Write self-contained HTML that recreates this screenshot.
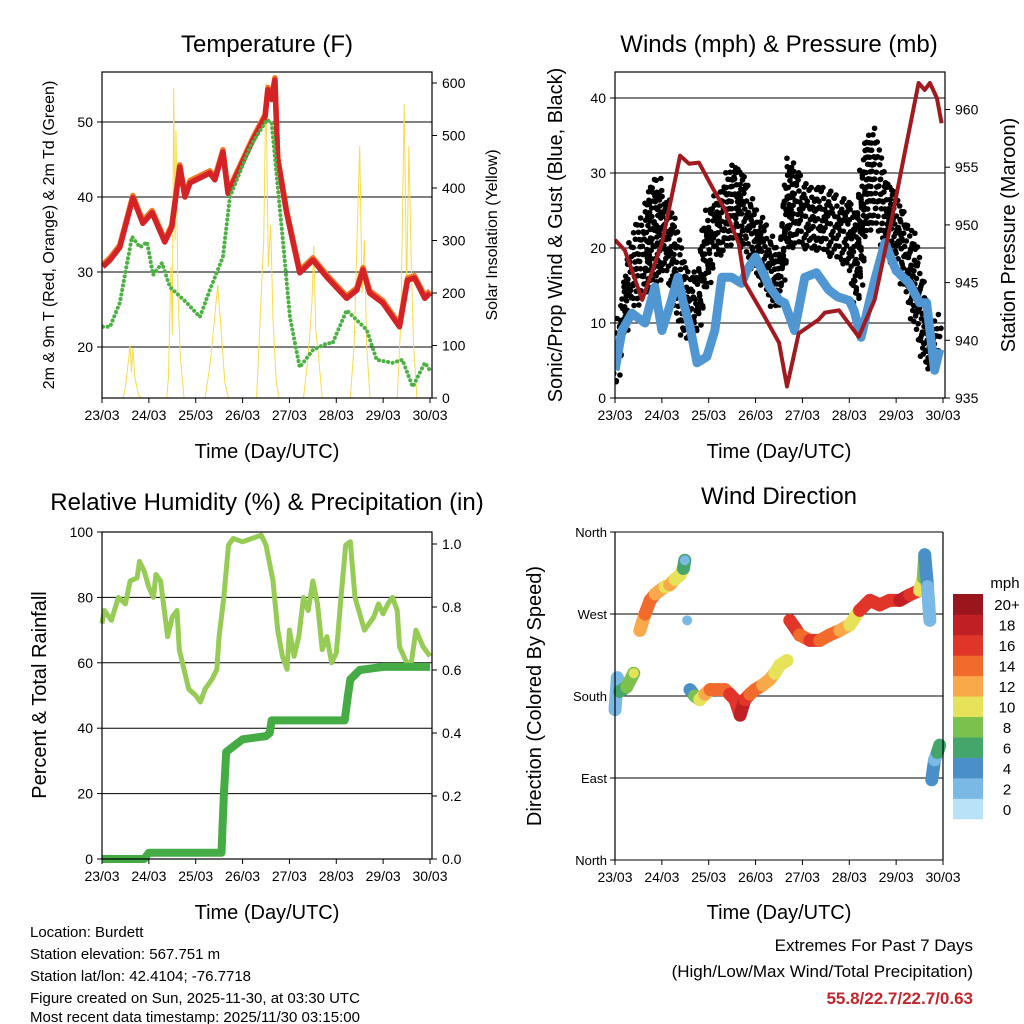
<!DOCTYPE html>
<html><head><meta charset="utf-8">
<style>
html,body{margin:0;padding:0;background:#fff;}
svg{display:block;font-family:"Liberation Sans",sans-serif;}
</style></head>
<body>
<svg id="chart" width="1024" height="1024" viewBox="0 0 1024 1024" xmlns="http://www.w3.org/2000/svg">
<g id="static">
<text x="267" y="52" font-size="24" text-anchor="middle">Temperature (F)</text>
<text x="779" y="52" font-size="24" text-anchor="middle">Winds (mph) &amp; Pressure (mb)</text>
<text x="267" y="510" font-size="24" text-anchor="middle">Relative Humidity (%) &amp; Precipitation (in)</text>
<text x="779" y="504" font-size="24" text-anchor="middle">Wind Direction</text>
<text x="267" y="458" font-size="20" text-anchor="middle">Time (Day/UTC)</text>
<text x="779" y="458" font-size="20" text-anchor="middle">Time (Day/UTC)</text>
<text x="267" y="919" font-size="20" text-anchor="middle">Time (Day/UTC)</text>
<text x="779" y="919" font-size="20" text-anchor="middle">Time (Day/UTC)</text>
<text transform="translate(54,235) rotate(-90)" font-size="16" text-anchor="middle">2m &amp; 9m T (Red, Orange) &amp; 2m Td (Green)</text>
<text transform="translate(497,235) rotate(-90)" font-size="16" text-anchor="middle">Solar Insolation (Yellow)</text>
<text transform="translate(562,235) rotate(-90)" font-size="20" text-anchor="middle">Sonic/Prop Wind &amp; Gust (Blue, Black)</text>
<text transform="translate(1015,235) rotate(-90)" font-size="20" text-anchor="middle">Station Pressure (Maroon)</text>
<text transform="translate(46,695) rotate(-90)" font-size="20" text-anchor="middle">Percent &amp; Total Rainfall</text>
<text transform="translate(541,696) rotate(-90)" font-size="20" text-anchor="middle">Direction (Colored By Speed)</text>
<g font-size="15">
<text x="30" y="937">Location: Burdett</text>
<text x="30" y="959">Station elevation: 567.751 m</text>
<text x="30" y="981">Station lat/lon: 42.4104; -76.7718</text>
<text x="30" y="1003">Figure created on Sun, 2025-11-30, at 03:30 UTC</text>
<text x="30" y="1022">Most recent data timestamp: 2025/11/30 03:15:00</text>
</g>
<text x="973" y="951" font-size="17" text-anchor="end">Extremes For Past 7 Days</text>
<text x="973" y="977" font-size="17" text-anchor="end">(High/Low/Max Wind/Total Precipitation)</text>
<text x="973" y="1004" font-size="17" font-weight="bold" fill="#c0272d" text-anchor="end">55.8/22.7/22.7/0.63</text>
</g>
</svg>
<script>
// ===== Data =====
const dayLabels = ["23/03","24/03","25/03","26/03","27/03","28/03","29/03","30/03"];
// Temperature panel
const tempT = [0.02,0.17,0.38,0.66,0.87,1.07,1.34,1.49,1.66,1.77,1.88,2.30,2.41,2.58,2.69,3.22,3.48,3.54,3.62,3.69,3.75,3.94,4.22,4.50,4.80,5.22,5.44,5.57,5.71,5.99,6.35,6.52,6.67,6.89,7.0];
const tempV = [30.7,31.6,33.3,39.9,36.5,37.9,34,36,44,40,41.9,43.2,42.3,46,40.5,47.6,50.7,54.3,53,55.6,45,37.9,29.9,31.6,29.3,26.5,27.6,30.3,27.2,25.9,22.7,28.9,29.2,26.5,27.2];
const dewT = [0.02,0.17,0.38,0.64,0.81,0.96,1.09,1.28,1.45,1.81,2.09,2.30,2.58,2.73,3.16,3.52,3.62,3.84,4.01,4.22,4.50,4.80,4.92,5.22,5.50,5.65,5.86,6.20,6.41,6.63,6.89,7.0];
const dewV = [22.7,22.7,25.9,34.7,33.3,34,29.6,31.2,28,25.9,24,27.6,32,40,46.7,50.3,49.9,35.6,24,17.3,19.6,20.5,20.5,24.9,23.2,22.3,18.3,17.9,18.3,14.7,17.9,16.9];
const solarT = [0.45,0.5,0.55,0.6,0.63,0.66,0.7,0.78,0.85, 1.38,1.42,1.47,1.5,1.53,1.56,1.58,1.62,1.67,1.75, 2.2,2.3,2.4,2.47,2.55,2.62,2.7, 3.3,3.4,3.45,3.5,3.55,3.6,3.65,3.72,3.78, 4.3,4.4,4.48,4.52,4.56,4.62,4.7, 5.3,5.38,5.45,5.5,5.55,5.6,5.65,5.72, 6.3,6.38,6.45,6.5,6.55,6.6,6.65,6.72];
const solarV = [0,20,60,100,50,95,40,5,0, 0,40,250,120,590,300,510,200,80,0, 0,60,150,215,120,30,0, 0,200,300,600,250,330,150,30,0, 0,80,180,290,130,80,0, 0,100,330,480,200,300,100,0, 0,150,560,200,480,250,100,0];
const tempTicks = [20,30,40,50];
const solarTicks = [0,100,200,300,400,500,600];
// Wind panel
const windT = [0,0.15,0.36,0.64,0.85,1.0,1.19,1.34,1.46,1.6,1.75,1.96,2.13,2.28,2.49,2.7,2.81,3.0,3.3,3.51,3.62,3.83,4.05,4.3,4.56,4.75,5.0,5.1,5.25,5.54,5.76,6.0,6.28,6.5,6.65,6.82,6.93];
const windV = [3.7,9,11.3,10,14.8,9,12.7,16.1,12.7,9.5,4.7,5.5,9,16.1,16.1,15.3,17,18.8,14.8,13,12.7,9,16.1,16.7,14.4,13.5,13,11.7,8.1,15.7,20.7,17,15.3,12.7,12.7,3.7,6.5];
const gustT = [0,0.15,0.36,0.64,0.85,1.07,1.28,1.49,1.71,1.92,2.13,2.35,2.56,2.77,2.99,3.2,3.41,3.52,3.67,3.88,4.16,4.41,4.69,4.97,5.18,5.33,5.54,5.76,5.97,6.18,6.4,6.61,6.76,6.93];
const gustLo = [1,8,12,14,15,18,12,8,8,14,19,20,22,20,17,15,12,14,20,21,20,20,19,18,12,22,24,20,18,15,10,5,4,6];
const gustHi = [5,14,22,26,30,28,24,18,16,24,27,29,32,30,25,24,20,18,32,31,28,28,27,27,25,34,36,30,28,24,22,14,8,12];
const presT = [0,0.21,0.58,1.0,1.39,1.58,1.79,2.07,2.35,2.64,2.77,3.2,3.5,3.67,3.92,4.35,4.48,4.78,5.2,5.54,5.9,6.18,6.48,6.61,6.72,6.87,6.97];
const presV = [948.7,947.8,943.5,948.4,956,955.3,955.4,953.3,951.3,948.4,945,942,939.8,936,940.6,941.8,942.4,942.6,940.3,943.5,950.4,956.2,962.3,961.7,962.3,961,958.8];
const windTicks = [0,10,20,30,40];
const presTicks = [935,940,945,950,955,960];
// RH panel
const rhT = [0,0.05,0.2,0.35,0.5,0.6,0.75,0.8,0.9,1.0,1.1,1.15,1.25,1.4,1.5,1.6,1.65,1.75,1.85,2.0,2.1,2.2,2.35,2.45,2.5,2.6,2.7,2.8,3.0,3.2,3.4,3.5,3.65,3.75,3.85,3.95,4.0,4.1,4.2,4.3,4.4,4.5,4.6,4.7,4.8,4.9,5.0,5.1,5.2,5.3,5.4,5.5,5.6,5.7,5.8,5.9,6.0,6.1,6.2,6.3,6.35,6.5,6.6,6.7,6.85,7.0];
const rhV = [72,76,73,80,78,85,86,91,88,83,80,87,85,68,74,76,64,58,52,50,48,52,55,58,68,80,96,98,97,98,99,96,85,70,62,58,70,62,68,80,76,85,78,64,68,60,63,80,96,97,80,75,70,72,74,78,75,78,80,76,65,60,60,70,65,62];
const precT = [0,0.9,1.0,2.55,2.6,2.65,3.0,3.5,3.58,3.62,5.18,5.25,5.3,5.5,6.0,7.0];
const precV = [0,0,0.02,0.02,0.2,0.34,0.38,0.39,0.4,0.44,0.44,0.52,0.57,0.6,0.61,0.61];
const rhTicks = [0,20,40,60,80,100];
const precTicks = [0.0,0.2,0.4,0.6,0.8,1.0];
// Wind direction panel
const dirT = [0,0.05,0.1,0.25,0.4,0.53,0.64,0.75,0.86,0.96,1.07,1.17,1.28,1.39,1.46,1.49,1.54,1.6,1.7,1.81,1.92,2.03,2.2,2.35,2.45,2.56,2.67,2.77,2.88,2.99,3.15,3.3,3.41,3.52,3.67,3.73,3.84,3.94,4.05,4.16,4.37,4.58,4.8,5.01,5.22,5.44,5.65,5.86,6.08,6.29,6.5,6.58,6.61,6.67,6.72,6.76,6.82,6.88,6.93];
const dirV = [165,200,185,190,205,252,270,285,292,296,300,302,308,313,320,329,263,187,180,176,182,187,187,187,182,176,159,176,182,187,192,198,205,214,219,263,255,247,244,241,241,247,252,258,274,285,280,285,285,291,296,310,335,300,263,88,110,118,126];
const dirS = [2,3,7,8,10,13,15,14,13,12,11,12,11,10,6,3,3,5,8,10,12,14,15,15,16,17,19,17,15,14,13,12,11,11,10,17,16,15,15,16,15,14,13,11,16,17,16,17,18,17,10,8,4,3,2,4,3,6,7];
const dirTicks = ["North","East","South","West","North"];
const binLabels = ["0","2","4","6","8","10","12","14","16","18","20+"];
const binColors = ["#b8e2f7","#7ab8e6","#4a8fc8","#45a66c","#7bc14e","#e6e25a","#f9a94a","#f26a2c","#e1352a","#c01f24","#9a161c"];

// ===== Drawing =====
const svg = document.getElementById('chart');
const NS = 'http://www.w3.org/2000/svg';
function mk(tag, attrs, parent){
  const e = document.createElementNS(NS, tag);
  for (const k in attrs) e.setAttribute(k, attrs[k]);
  (parent||svg).appendChild(e);
  return e;
}
function pathFrom(ts, vs, xf, yf){
  return ts.map((t,i)=>(i?'L':'M')+xf(t).toFixed(1)+','+yf(vs[i]).toFixed(1)).join('');
}
function speedColor(s){ return binColors[Math.min(10, Math.max(0, Math.floor(s/2)))]; }
function makeX(x0,x1){ return t => x0 + (x1-x0)*t/7; }
function makeY(y0,y1,v0,v1){ return v => y0 + (y1-y0)*(v-v0)/(v1-v0); }

function drawFrame(name, x0,x1,y0,y1){
  const r = mk('rect',{x:x0,y:y0,width:x1-x0,height:y1-y0,fill:'none',stroke:'#000','stroke-width':1.2});
  
  
}
function drawXTicks(name, xf, yb){
  const g = mk('g',{'font-size':14,'text-anchor':'middle'});
  
  
  dayLabels.forEach((lab,i)=>{
    mk('line',{x1:xf(i),x2:xf(i),y1:yb,y2:yb+5,stroke:'#000'},g);
    const t = mk('text',{x:xf(i),y:yb+22},g); t.textContent = lab;
  });
}
function drawYTicks(name, ticks, yf, x, side, grid, x0, x1, fmt){
  const g = mk('g',{'font-size':14,'text-anchor': side==='left'?'end':'start'});
  
  
  ticks.forEach(v=>{
    const y = yf(v);
    if (grid) mk('line',{x1:x0,x2:x1,y1:y,y2:y,stroke:'#000','stroke-width':1},g);
    mk('line',{x1:x,x2:side==='left'?x-5:x+5,y1:y,y2:y,stroke:'#000'},g);
    const t = mk('text',{x: side==='left'?x-9:x+10, y:y+5},g);
    t.textContent = fmt?fmt(v):v;
  });
}

// ---- Panel 1: Temperature ----
(function(){
  const x0=102,x1=432,y0=72,y1=398;
  const xf = makeX(x0,430), yf = makeY(347,272,20,30), sf = makeY(398,345.5,0,100);
  const clip = mk('clipPath',{id:'c1'}); mk('rect',{x:x0,y:y0,width:x1-x0,height:y1-y0},clip);
  drawYTicks('temp-y-axis', tempTicks, yf, x0, 'left', true, x0, x1);
  drawYTicks('solar-y-axis', solarTicks, sf, x1, 'right', false);
  const g = mk('g',{'clip-path':'url(#c1)'});
  const s = mk('path',{d:pathFrom(solarT,solarV,xf,sf),fill:'none',stroke:'#f7dc4a','stroke-width':1},g);
  
  
  const o = mk('path',{d:pathFrom(tempT,tempV.map(v=>v+0.3),xf,yf),fill:'none',stroke:'#f07a2a','stroke-width':5.5,'stroke-linejoin':'round'},g);
  
  
  const r = mk('path',{d:pathFrom(tempT,tempV,xf,yf),fill:'none',stroke:'#d42226','stroke-width':5.5,'stroke-linejoin':'round'},g);
  
  
  const d = mk('path',{d:pathFrom(dewT,dewV,xf,yf),fill:'none',stroke:'#4cb043','stroke-width':4,'stroke-dasharray':'0.1 4.5','stroke-linecap':'round','stroke-linejoin':'round'},g);
  
  
  drawFrame('temperature', x0,x1,y0,y1);
  drawXTicks('temperature', xf, y1);
})();

// ---- Panel 2: Winds ----
(function(){
  const x0=615,x1=945,y0=72,y1=398;
  const xf = makeX(x0,943), yf = makeY(398,323,0,10), pf = makeY(398,340.3,935,940);
  const clip = mk('clipPath',{id:'c2'}); mk('rect',{x:x0,y:y0,width:x1-x0,height:y1-y0},clip);
  drawYTicks('wind-y-axis', windTicks, yf, x0, 'left', true, x0, x1);
  drawYTicks('pressure-y-axis', presTicks, pf, x1, 'right', false);
  const g = mk('g',{'clip-path':'url(#c2)'});
  const gg = mk('g',{fill:'#000'},g);
  
  
  const sub = 6;
  for (let i=0;i<gustT.length-1;i++){
    for (let k=0;k<sub;k++){
      const f = k/sub;
      const t = gustT[i]+(gustT[i+1]-gustT[i])*f;
      const lo = gustLo[i]+(gustLo[i+1]-gustLo[i])*f;
      const hi = gustHi[i]+(gustHi[i+1]-gustHi[i])*f;
      let j = 0;
      for (let v=lo; v<=hi; v+=1.3){
        if ((k*5+j*3)%7===0){ j++; continue; }
        const c = mk('circle',{cx:xf(t)+((k*7+j*3)%5-2)*1.3,cy:yf(v)+((k+j)%3-1)*2,r:2.8},gg);
        
        
        j++;
      }
    }
  }
  const w = mk('path',{d:pathFrom(windT,windV,xf,yf),fill:'none',stroke:'#4f96d2','stroke-width':9,'stroke-linejoin':'round'},g);
  
  
  const p = mk('path',{d:pathFrom(presT,presV,xf,pf),fill:'none',stroke:'#a01a1f','stroke-width':4,'stroke-linejoin':'round'},g);
  
  
  drawFrame('winds', x0,x1,y0,y1);
  drawXTicks('winds', xf, y1);
})();

// ---- Panel 3: RH & Precip ----
(function(){
  const x0=102,x1=432,y0=532,y1=859;
  const xf = makeX(x0,430), yf = makeY(859,532,0,100), pf = makeY(859,544,0,1);
  const clip = mk('clipPath',{id:'c3'}); mk('rect',{x:x0-4,y:y0,width:x1-x0+8,height:y1-y0+4},clip);
  drawYTicks('rh-y-axis', rhTicks, yf, x0, 'left', true, x0, x1);
  drawYTicks('precip-y-axis', precTicks, pf, x1, 'right', false, 0,0, v=>v.toFixed(1));
  const g = mk('g',{'clip-path':'url(#c3)'});
  const rh = mk('path',{d:pathFrom(rhT,rhV,xf,yf),fill:'none',stroke:'#96cc55','stroke-width':5,'stroke-linejoin':'round'},g);
  
  
  const pr = mk('path',{d:pathFrom(precT,precV,xf,pf),fill:'none',stroke:'#45ac45','stroke-width':8,'stroke-linejoin':'round'},g);
  
  
  drawFrame('humidity', x0,x1,y0,y1);
  drawXTicks('humidity', xf, y1);
})();

// ---- Panel 4: Wind direction ----
(function(){
  const x0=615,x1=943,y0=532,y1=860;
  const xf = makeX(x0,943), yf = makeY(860,532,0,360);
  const g0 = mk('g',{'font-size':13,'text-anchor':'end'});
  
  
  dirTicks.forEach((lab,i)=>{
    const y = yf(i*90);
    mk('line',{x1:x0,x2:x1,y1:y,y2:y,stroke:'#000'},g0);
    mk('line',{x1:x0,x2:x0-5,y1:y,y2:y,stroke:'#000'},g0);
    const t = mk('text',{x:x0-8,y:y+5},g0); t.textContent = lab;
  });
  const g = mk('g',{});
  
  
  for (let i=0;i<dirT.length;i++){
    const c = mk('circle',{cx:xf(dirT[i]),cy:yf(dirV[i]),r:5,fill:speedColor(dirS[i])},g);
    
    
    if (i<dirT.length-1 && Math.abs(dirV[i+1]-dirV[i])<40){
      const l = mk('line',{x1:xf(dirT[i]),y1:yf(dirV[i]),x2:xf(dirT[i+1]),y2:yf(dirV[i+1]),stroke:speedColor(dirS[i]),'stroke-width':13,'stroke-linecap':'round'},g);
      
      
    }
  }
  mk('line',{x1:x0,x2:x0,y1:y0,y2:y1,stroke:'#000','stroke-width':1.2});
  const rb = mk('line',{x1:x1,x2:x1,y1:y0,y2:y1,stroke:'#000','stroke-width':1.2});
  
  
  drawXTicks('direction', xf, y1);
  const cb = mk('g',{'font-size':15,'text-anchor':'middle'});
  
  
  const bt = mk('text',{x:1005,y:588},cb); bt.textContent='mph';
  const bh = (819-594)/11;
  binLabels.forEach((lab,i)=>{
    const y = 819 - (i+1)*bh;
    const r = mk('rect',{x:953,y:y,width:30,height:bh+0.3,fill:binColors[i]},cb);
    
    
    const t = mk('text',{x:1007,y:y+bh/2+6},cb); t.textContent = lab;
  });
})();
</script>
</body></html>
